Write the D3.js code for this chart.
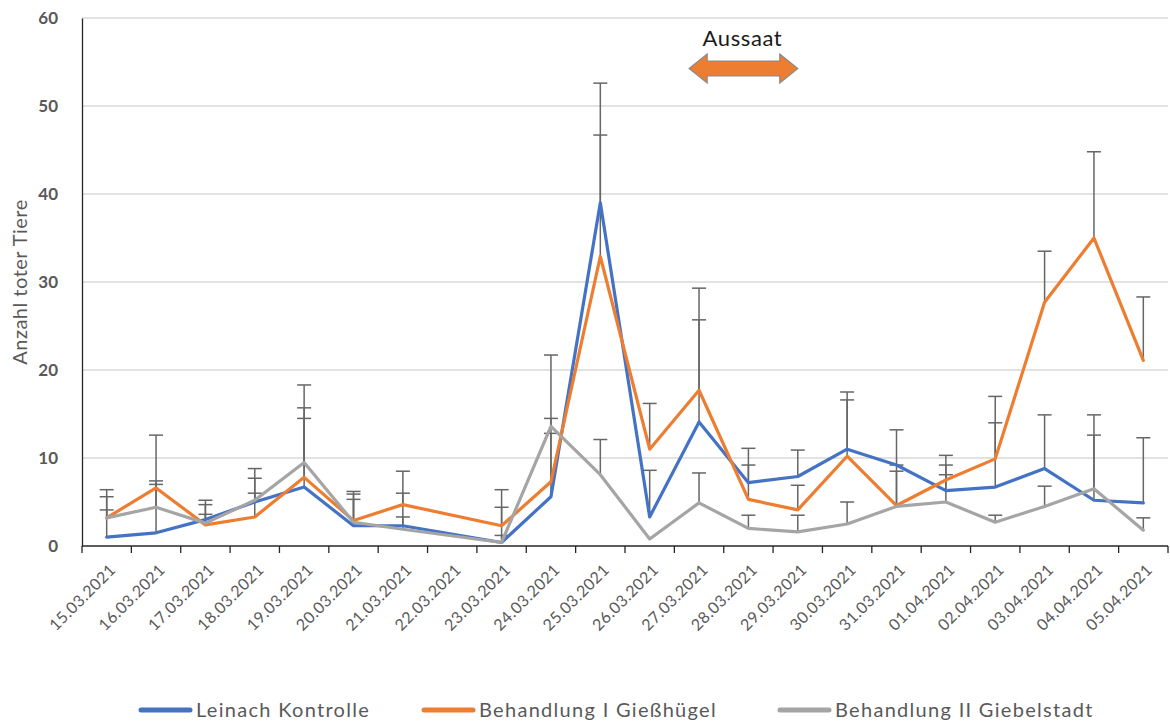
<!DOCTYPE html>
<html>
<head>
<meta charset="utf-8">
<script src="https://cdn.jsdelivr.net/npm/d3@7"></script>
<style>
  html, body { margin: 0; padding: 0; background: #fff; }
  svg { display: block; font-family: Lato, "Open Sans", sans-serif; }
</style>
</head>
<body>
<svg id="chart" width="1170" height="722"></svg>
<script>
// Sampling dates (no counts on 22.03.2021)
const dates = ["15.03.2021","16.03.2021","17.03.2021","18.03.2021","19.03.2021","20.03.2021",
  "21.03.2021","22.03.2021","23.03.2021","24.03.2021","25.03.2021","26.03.2021","27.03.2021",
  "28.03.2021","29.03.2021","30.03.2021","31.03.2021","01.04.2021","02.04.2021","03.04.2021",
  "04.04.2021","05.04.2021"];

// Mean number of dead animals per site
const leinach     = [1.0, 1.5, 3.0, 5.0, 6.7, 2.3, 2.3, null, 0.4, 5.6, 39.0, 3.3, 14.1, 7.2, 7.9, 11.0, 9.2, 6.3, 6.7, 8.8, 5.2, 4.9];
const giesshuegel = [3.2, 6.6, 2.4, 3.3, 7.8, 2.9, 4.7, null, 2.3, 7.3, 32.9, 11.0, 17.7, 5.3, 4.1, 10.2, 4.6, 7.5, 9.9, 27.7, 35.0, 21.1];
const giebelstadt = [3.2, 4.4, 2.6, 5.2, 9.5, 2.7, 1.9, null, 0.4, 13.6, 8.1, 0.8, 4.9, 2.0, 1.6, 2.5, 4.5, 5.0, 2.7, 4.5, 6.5, 1.8];

// Positive error (standard deviation) per site
const leinachErr     = [3.1, 5.5, 2.2, 2.7, 7.8, 3.0, 3.7, null, 4.0, 7.2, 13.6, 5.3, 11.6, 3.9, 3.0, 6.5, 4.0, 2.9, 7.3, 6.1, 7.4, 7.4];
const giesshuegelErr = [2.4, 6.0, 2.3, 2.7, 7.9, 3.3, 3.8, null, 4.1, 7.2, 13.8, 5.2, 11.6, 3.9, 2.8, 6.4, 3.9, 2.8, 7.1, 5.8, 9.8, 7.2];
const giebelstadtErr = [3.2, 3.0, 1.0, 3.6, 8.8, 3.2, 1.4, null, 0.8, 8.1, 4.0, 0, 3.4, 1.5, 1.9, 2.5, 4.7, 3.1, 0.8, 2.3, 8.4, 1.4];

const seriesNames = ["Leinach Kontrolle", "Behandlung I Gießhügel", "Behandlung II Giebelstadt"];
const yTicks = [0, 10, 20, 30, 40, 50, 60];

const colors = ["#4472C4", "#ED7D31", "#A5A5A5"];
const series = [
  { name: seriesNames[0], values: leinach, err: leinachErr, color: colors[0] },
  { name: seriesNames[1], values: giesshuegel, err: giesshuegelErr, color: colors[1] },
  { name: seriesNames[2], values: giebelstadt, err: giebelstadtErr, color: colors[2] }
];

const svg = d3.select("#chart");
const plot = { left: 82, right: 1168, top: 18, bottom: 546 };
const textGray = "#595959";

const x = d3.scaleBand().domain(dates).range([plot.left, plot.right]).padding(0);
const xc = d => x(d) + x.bandwidth() / 2;
const y = d3.scaleLinear().domain([0, 60]).range([plot.bottom, plot.top]);

// Horizontal gridlines
svg.append("g")
  .selectAll("line")
  .data(yTicks.filter(t => t > 0))
  .join("line")
  .attr("x1", plot.left).attr("x2", plot.right)
  .attr("y1", d => y(d)).attr("y2", d => y(d))
  .attr("stroke", "#d9d9d9").attr("stroke-width", 1.3);

// Y axis
const yAxis = d3.axisLeft(y).tickValues(yTicks).tickSize(0).tickPadding(24);
const gy = svg.append("g").attr("transform", `translate(${plot.left},0)`).call(yAxis);
gy.select(".domain").attr("stroke", "#262626").attr("stroke-width", 1.3);
gy.selectAll("text")
  .attr("fill", textGray)
  .attr("font-size", 17)
  .attr("font-weight", 700)
  .attr("font-family", "Lato, sans-serif");

// X axis: ticks between categories, labels rotated
const gx = svg.append("g");
gx.append("line")
  .attr("x1", plot.left).attr("x2", plot.right)
  .attr("y1", plot.bottom).attr("y2", plot.bottom)
  .attr("stroke", "#262626").attr("stroke-width", 1.3);
gx.selectAll("line.tick")
  .data(dates.concat([null]))
  .join("line")
  .attr("class", "tick")
  .attr("x1", (d, i) => plot.left + i * x.bandwidth())
  .attr("x2", (d, i) => plot.left + i * x.bandwidth())
  .attr("y1", plot.bottom).attr("y2", plot.bottom + 7)
  .attr("stroke", "#262626").attr("stroke-width", 1.3);
gx.selectAll("text")
  .data(dates)
  .join("text")
  .attr("transform", d => `translate(${xc(d) + 6},${plot.bottom + 21}) rotate(-45)`)
  .attr("text-anchor", "end")
  .attr("dy", "0.35em")
  .attr("fill", textGray)
  .attr("font-size", 16)
  .attr("letter-spacing", 0.4)
  .text(d => d);

// Y axis title
svg.append("text")
  .attr("transform", `translate(27,${(plot.top + plot.bottom) / 2}) rotate(-90)`)
  .attr("text-anchor", "middle")
  .attr("fill", textGray)
  .attr("font-size", 20)
  .attr("letter-spacing", 0.5)
  .text("Anzahl toter Tiere");

// Error bars (upper side only), drawn per series from the mean upwards
const capHalf = 7;
series.forEach(s => {
  const pts = dates.map((d, i) => ({ d, v: s.values[i], e: s.err[i] }))
    .filter(p => p.v != null && p.e != null && p.e > 0);
  const g = svg.append("g").attr("stroke", "#666").attr("stroke-width", 1.5);
  g.selectAll("line.stem").data(pts).join("line")
    .attr("class", "stem")
    .attr("x1", p => xc(p.d)).attr("x2", p => xc(p.d))
    .attr("y1", p => y(p.v)).attr("y2", p => y(p.v + p.e));
  g.selectAll("line.cap").data(pts).join("line")
    .attr("class", "cap")
    .attr("x1", p => xc(p.d) - capHalf).attr("x2", p => xc(p.d) + capHalf)
    .attr("y1", p => y(p.v + p.e)).attr("y2", p => y(p.v + p.e));
});

// Series lines (gaps are bridged)
const line = d3.line()
  .x(p => xc(p.d))
  .y(p => y(p.v));
series.forEach(s => {
  const pts = dates.map((d, i) => ({ d, v: s.values[i] })).filter(p => p.v != null);
  svg.append("path")
    .datum(pts)
    .attr("d", line)
    .attr("fill", "none")
    .attr("stroke", s.color)
    .attr("stroke-width", 3.2)
    .attr("stroke-linejoin", "round")
    .attr("stroke-linecap", "round");
});

// Sowing period annotation: double-headed arrow with label
const ax1 = x("27.03.2021") + x.bandwidth() * 0.3;
const ax2 = xc("29.03.2021");
const ay = 68.5, shaftH = 7.5, headH = 14.5, headL = 18;
const arrowPts = [
  [ax1, ay], [ax1 + headL, ay - headH], [ax1 + headL, ay - shaftH],
  [ax2 - headL, ay - shaftH], [ax2 - headL, ay - headH], [ax2, ay],
  [ax2 - headL, ay + headH], [ax2 - headL, ay + shaftH],
  [ax1 + headL, ay + shaftH], [ax1 + headL, ay + headH]
];
svg.append("polygon")
  .attr("points", arrowPts.map(p => p.join(",")).join(" "))
  .attr("fill", "#ED7D31")
  .attr("stroke", "#8a8a8a")
  .attr("stroke-width", 1.2)
  .attr("stroke-linejoin", "miter");
svg.append("text")
  .attr("x", (ax1 + ax2) / 2 - 1)
  .attr("y", 46)
  .attr("text-anchor", "middle")
  .attr("fill", "#1a1a1a")
  .attr("font-size", 22)
  .attr("letter-spacing", 0.6)
  .text("Aussaat");

// Legend
const legendItems = [
  { x: 139, name: seriesNames[0], color: colors[0] },
  { x: 422, name: seriesNames[1], color: colors[1] },
  { x: 778, name: seriesNames[2], color: colors[2] }
];
const lg = svg.append("g");
legendItems.forEach(it => {
  lg.append("line")
    .attr("x1", it.x + 2).attr("x2", it.x + 51)
    .attr("y1", 710).attr("y2", 710)
    .attr("stroke", it.color).attr("stroke-width", 5)
    .attr("stroke-linecap", "round");
  lg.append("text")
    .attr("x", it.x + 57)
    .attr("y", 710)
    .attr("dy", "0.35em")
    .attr("fill", textGray)
    .attr("font-size", 20)
    .attr("letter-spacing", 1.3)
    .text(it.name);
});
</script>
</body>
</html>
